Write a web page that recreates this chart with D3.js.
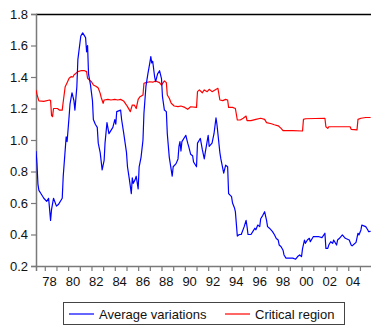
<!DOCTYPE html>
<html>
<head>
<meta charset="utf-8">
<script src="https://cdn.jsdelivr.net/npm/d3@7"></script>
<style>
  html, body { margin: 0; padding: 0; background: #fff; }
  svg { display: block; }
  text { font-family: "Liberation Sans", Arial, sans-serif; fill: #111; }
</style>
</head>
<body>
<svg id="chart" width="371" height="329"></svg>
<script>
// Average variations (monthly, sampled turning points)
const avgMonths = [
  "1977-04","1977-05","1977-06","1977-07","1977-09","1977-12","1978-03","1978-05","1978-07","1978-08",
  "1978-10","1979-01","1979-03","1979-07","1979-08","1979-11","1979-12","1980-02","1980-03","1980-05",
  "1980-07","1980-08","1980-10","1980-11","1981-02","1981-04","1981-07","1981-08","1981-09","1981-10",
  "1981-12","1982-02","1982-03","1982-05","1982-07","1982-08","1982-10","1982-12","1983-02","1983-03",
  "1983-05","1983-07","1983-08","1983-11","1984-01","1984-02","1984-03","1984-07","1984-08","1984-10",
  "1985-01","1985-02","1985-04","1985-06","1985-07","1985-08","1985-10","1985-11","1986-01","1986-02",
  "1986-04","1986-06","1986-07","1986-09","1986-11","1987-01","1987-02","1987-03","1987-04","1987-06",
  "1987-07","1987-09","1987-11","1988-01","1988-02","1988-04","1988-06","1988-07","1988-09","1988-11",
  "1988-12","1989-01","1989-04","1989-06","1989-07","1989-08","1989-09","1989-10","1990-02","1990-04",
  "1990-05","1990-07","1990-09","1990-10","1991-01","1991-02","1991-04","1991-05","1991-07","1991-09",
  "1991-10","1992-01","1992-02","1992-05","1992-07","1992-09","1992-10","1993-01","1993-02","1993-05",
  "1993-07","1993-09","1993-10","1994-01","1994-02","1994-04","1994-05","1994-07","1994-09","1994-11",
  "1995-02","1995-04","1995-05","1995-06","1995-09","1995-11","1996-01","1996-02","1996-04","1996-06",
  "1996-07","1996-09","1996-11","1997-01","1997-02","1997-04","1997-07","1997-09","1997-11","1998-01",
  "1998-02","1998-04","1998-06","1998-07","1998-09","1999-01","1999-04","1999-07","1999-09","1999-11",
  "2000-01","2000-02","2000-04","2000-05","2000-07","2000-09","2000-10","2001-01","2001-04","2001-07",
  "2001-10","2002-01","2002-02","2002-04","2002-05","2002-07","2002-09","2002-10","2003-01","2003-02",
  "2003-04","2003-07","2003-10","2004-02","2004-04","2004-05","2004-08","2004-09","2004-11","2004-12",
  "2005-02","2005-03","2005-05","2005-07","2005-09","2005-10","2005-12"
];
const avgValues = [
  0.93,0.85,0.72,0.68,0.66,0.63,0.61,0.63,0.49,0.56,
  0.63,0.58,0.59,0.63,0.77,1.02,0.99,1.15,1.23,1.30,
  1.25,1.19,1.34,1.51,1.66,1.68,1.65,1.56,1.60,1.42,
  1.35,1.25,1.13,1.10,1.08,0.98,0.92,0.81,0.87,0.98,
  1.11,1.04,1.05,1.08,1.13,1.10,1.18,1.19,1.13,1.05,
  0.92,0.83,0.75,0.66,0.76,0.725,0.75,0.77,0.69,0.83,
  0.89,1.00,1.17,1.34,1.42,1.49,1.53,1.49,1.50,1.40,
  1.37,1.42,1.44,1.39,1.275,1.19,1.18,1.04,0.89,0.81,
  0.77,0.83,0.85,0.88,0.96,0.99,0.93,0.99,1.03,0.98,
  0.96,0.91,0.90,0.86,0.83,0.98,1.00,1.01,0.94,0.88,
  0.92,1.03,0.96,0.98,1.04,1.14,1.10,0.92,0.88,0.79,
  0.84,0.83,0.66,0.64,0.60,0.57,0.545,0.39,0.40,0.40,
  0.45,0.49,0.45,0.40,0.40,0.42,0.44,0.43,0.46,0.45,
  0.50,0.52,0.545,0.49,0.45,0.44,0.42,0.40,0.375,0.365,
  0.333,0.322,0.30,0.27,0.25,0.25,0.25,0.243,0.26,0.27,
  0.26,0.31,0.365,0.344,0.365,0.376,0.354,0.386,0.386,0.386,
  0.38,0.408,0.312,0.312,0.333,0.354,0.344,0.365,0.333,0.365,
  0.376,0.397,0.376,0.365,0.333,0.328,0.344,0.35,0.408,0.397,
  0.429,0.46,0.455,0.45,0.43,0.418,0.42
];

// Critical region (monthly, sampled turning points)
const critMonths = [
  "1977-04","1977-05","1977-07","1977-12","1978-06","1978-07","1978-08","1978-09","1978-10","1979-02",
  "1979-04","1979-07","1979-08","1979-10","1979-12","1980-02","1980-04","1980-06","1980-07","1980-11",
  "1981-02","1981-06","1981-08","1981-09","1981-11","1982-01","1982-03","1982-06","1982-08","1982-10",
  "1982-11","1983-01","1983-02","1983-06","1983-09","1984-01","1984-04","1984-07","1984-10","1985-01",
  "1985-02","1985-05","1985-07","1985-09","1985-11","1986-01","1986-03","1986-06","1986-07","1986-09",
  "1987-01","1987-04","1987-07","1987-11","1988-01","1988-04","1988-06","1988-07","1988-09","1988-11",
  "1989-02","1989-06","1989-09","1990-01","1990-04","1990-07","1991-01","1991-02","1991-04","1991-07",
  "1991-09","1991-12","1992-02","1992-05","1992-08","1992-11","1993-01","1993-04","1993-07","1993-09",
  "1993-10","1994-02","1994-05","1994-07","1994-10","1995-01","1995-04","1995-05","1995-09","1996-02",
  "1996-07","1996-11","1997-01","1997-06","1997-09","1998-01","1998-04","1998-06","1999-04","2000-02",
  "2000-03","2000-05","2002-01","2002-02","2002-04","2002-05","2003-04","2004-03","2004-04","2004-10",
  "2004-11","2005-02","2005-07","2005-12"
];
const critValues = [
  1.318,1.29,1.248,1.245,1.254,1.25,1.155,1.148,1.20,1.20,
  1.19,1.19,1.243,1.338,1.364,1.392,1.402,1.40,1.413,1.434,
  1.44,1.44,1.434,1.392,1.38,1.37,1.349,1.34,1.33,1.296,
  1.27,1.233,1.254,1.258,1.254,1.258,1.254,1.258,1.248,1.222,
  1.212,1.18,1.222,1.222,1.20,1.258,1.275,1.286,1.36,1.364,
  1.37,1.367,1.375,1.364,1.349,1.375,1.364,1.286,1.265,1.233,
  1.216,1.212,1.216,1.207,1.195,1.211,1.207,1.307,1.318,1.30,
  1.318,1.307,1.322,1.307,1.318,1.328,1.254,1.25,1.258,1.254,
  1.207,1.207,1.20,1.127,1.127,1.138,1.152,1.123,1.123,1.131,
  1.138,1.131,1.11,1.103,1.097,1.09,1.074,1.059,1.059,1.057,
  1.131,1.135,1.138,1.084,1.074,1.084,1.084,1.084,1.068,1.064,
  1.131,1.138,1.143,1.143
];

const yTicks = [0.2, 0.4, 0.6, 0.8, 1.0, 1.2, 1.4, 1.6, 1.8];
const seriesNames = ["Average variations", "Critical region"];
const seriesColors = ["#0000ff", "#ff0000"];

const parseMonth = d3.timeParse("%Y-%m");
const avgData = avgMonths.map((m, i) => ({ date: parseMonth(m), value: avgValues[i] }));
const critData = critMonths.map((m, i) => ({ date: parseMonth(m), value: critValues[i] }));

const svg = d3.select("#chart");
const plotLeft = 36, plotRight = 371.6, plotTop = 14, plotBottom = 266;

const x = d3.scaleTime()
  .domain([new Date(1977, 3, 1), new Date(2006, 0, 1)])
  .range([plotLeft, plotRight]);
const y = d3.scaleLinear().domain([0.2, 1.8]).range([plotBottom, plotTop]);

// Frame: black top rule
svg.append("line")
  .attr("x1", plotLeft).attr("x2", 371).attr("y1", plotTop + 0.5).attr("y2", plotTop + 0.5)
  .attr("stroke", "#000").attr("stroke-width", 1.3);

// Left value axis
const yAxis = d3.axisLeft(y).tickValues(yTicks).tickFormat(d3.format(".1f")).tickSize(5).tickPadding(3);
const gy = svg.append("g").attr("transform", `translate(${plotLeft},0)`).call(yAxis);
gy.select(".domain").attr("stroke", "#7a7a7a").attr("stroke-width", 1.5);
gy.selectAll(".tick line").attr("stroke", "#7a7a7a").attr("stroke-width", 1.2);
gy.selectAll(".tick text").style("font-size", "13px").attr("fill", "#111");

// Bottom time axis: yearly ticks, labels on even years centred in the year
const years = d3.timeYear.range(new Date(1978, 0, 1), new Date(2006, 0, 1));
const xAxis = d3.axisBottom(x).tickValues(years).tickFormat("").tickSize(5);
const gx = svg.append("g").attr("transform", `translate(0,${plotBottom})`).call(xAxis);
gx.select(".domain").attr("stroke", "#7a7a7a").attr("stroke-width", 1.5);
gx.selectAll(".tick line").attr("stroke", "#7a7a7a").attr("stroke-width", 1.2);

const labelYears = years.filter(d => d.getFullYear() % 2 === 0);
svg.append("g").selectAll("text")
  .data(labelYears)
  .join("text")
  .attr("x", d => x(new Date(d.getFullYear(), 6, 1)) - 1)
  .attr("y", plotBottom + 20)
  .attr("text-anchor", "middle")
  .style("font-size", "13px")
  .text(d => d3.timeFormat("%y")(d));

// Series lines
const line = d3.line().x(d => x(d.date)).y(d => y(d.value));
svg.append("clipPath").attr("id", "plot-clip")
  .append("rect").attr("x", plotLeft).attr("y", plotTop)
  .attr("width", plotRight - plotLeft).attr("height", plotBottom - plotTop);

const plot = svg.append("g").attr("clip-path", "url(#plot-clip)");
plot.append("path").datum(critData)
  .attr("fill", "none").attr("stroke", seriesColors[1]).attr("stroke-width", 1.2)
  .attr("stroke-linejoin", "round").attr("d", line);
plot.append("path").datum(avgData)
  .attr("fill", "none").attr("stroke", seriesColors[0]).attr("stroke-width", 1.2)
  .attr("stroke-linejoin", "round").attr("d", line);

// Legend
const legend = svg.append("g");
legend.append("rect")
  .attr("x", 63.5).attr("y", 302.5).attr("width", 281).attr("height", 22)
  .attr("fill", "#fff").attr("stroke", "#444").attr("stroke-width", 1);
const legendItems = [
  { name: seriesNames[0], color: seriesColors[0], x0: 69, x1: 94, tx: 99 },
  { name: seriesNames[1], color: seriesColors[1], x0: 225, x1: 250, tx: 255 }
];
legendItems.forEach(it => {
  legend.append("line")
    .attr("x1", it.x0).attr("x2", it.x1).attr("y1", 314).attr("y2", 314)
    .attr("stroke", it.color).attr("stroke-width", 1.2);
  legend.append("text")
    .attr("x", it.tx).attr("y", 318.5)
    .style("font-size", "13px")
    .text(it.name);
});
</script>
</body>
</html>
